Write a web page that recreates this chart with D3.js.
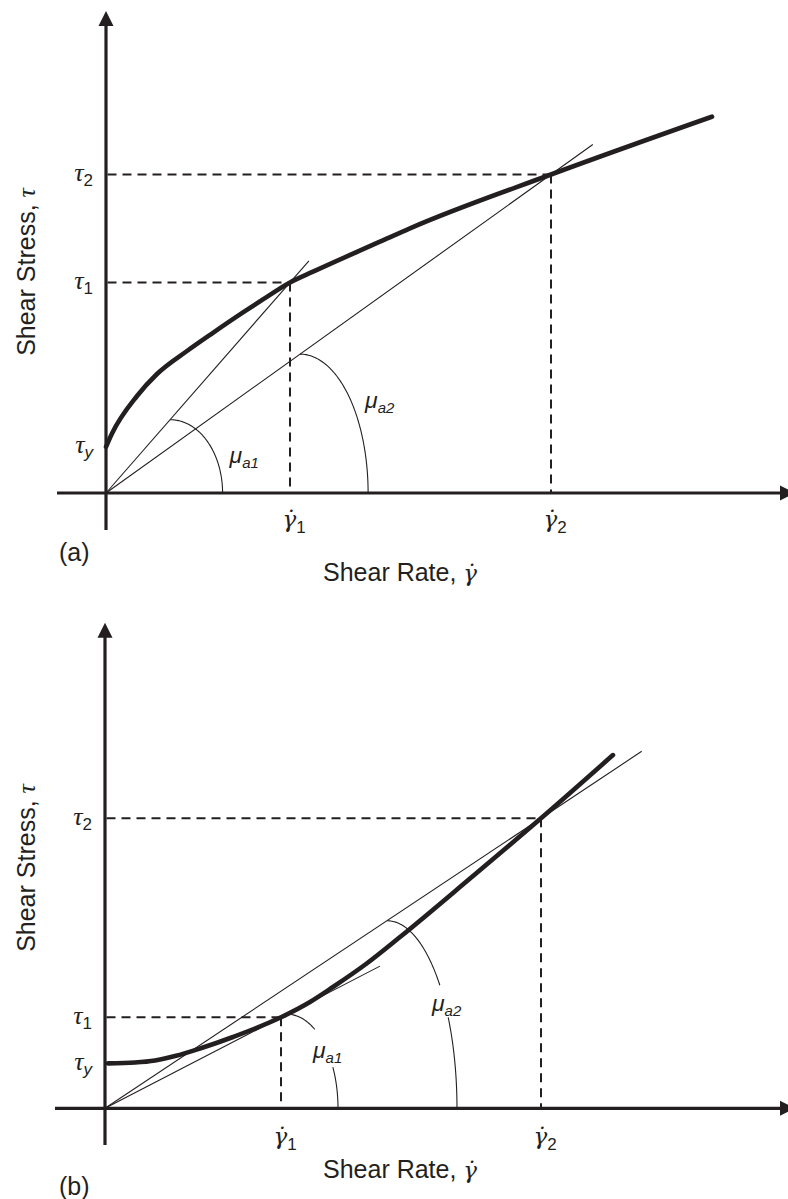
<!DOCTYPE html>
<html>
<head>
<meta charset="utf-8">
<script src="https://cdn.jsdelivr.net/npm/d3@7"></script>
<style>
  html, body { margin: 0; padding: 0; background: #fff; }
  svg { display: block; }
</style>
</head>
<body>
<svg id="chart" width="788" height="1199"></svg>
<script>
// ---------- (a) yield-stress, shear-thinning flow curve ----------
const rateA    = [0, 1.35, 6.97, 11.46, 18.20, 24.04, 30.79, 35.28, 41.35, 46.52, 61.57, 68.31, 100, 136.18];
const stressA  = [14.5, 18.68, 30.46, 37.36, 44.58, 50.30, 56.70, 60.78, 66.1, 69.48, 78.90, 83.11, 100, 118.15];
const yieldA   = 14.5;
const gammaA   = [41.35, 100];      // shear rates of the two read-off points
const tauA     = [66.1, 100];       // matching shear stresses
const rayEndA  = [45.6, 109.4];     // where each apparent-viscosity line stops
const arcFromA = [14.4, 43.6];      // angle-marker start (on the line)
const arcToA   = [26.2, 58.9];      // angle-marker end (on the rate axis)
const arcGapA  = [null, null];

// ---------- (b) yield-stress, shear-thickening flow curve ----------
const rateB    = [0.69, 6.88, 11.47, 16.06, 21.79, 29.36, 40.37, 47.02, 52.29, 59.86, 67.66, 83.72, 100, 116.5];
const stressB  = [15.5, 15.79, 16.48, 18.03, 20.62, 24.59, 31.38, 36.66, 41.83, 49.76, 59.07, 79.24, 100, 121.8];
const yieldB   = 15.5;
const gammaB   = [40.37, 100];
const tauB     = [31.38, 100];
const rayEndB  = [63.07, 123.1];
const arcFromB = [41.74, 64.68];
const arcToB   = [53.44, 80.73];
const arcGapB  = [[33, 64], [49, 61]];   // degrees left open for the labels

// ---------- labels ----------
const pointSubs = ["1", "2"];
const tauSubs   = ["y", "1", "2"];
const muSubs    = ["a1", "a2"];
const xTitle    = "Shear Rate, ";
const yTitle    = "Shear Stress, ";

const INK = "#231f20";
const SANS = "'Liberation Sans', Arial, Helvetica, sans-serif";
const SERIF = "'Liberation Serif', 'Times New Roman', serif";
const DOTSERIF = "'DejaVu Serif', serif";   // handles the combining dot over gamma
const GAMMA_DOT = "\u03B3\u0307";

const svg = d3.select("#chart");

function drawPanel(p) {
  const { x, y, rate, stress, yieldStress, gamma, tau, rayEnd, arcFrom, arcTo, arcGap,
          frame, tag, muPos } = p;
  const g = svg.append("g");
  const x0 = x(0), y0 = y(0);

  // dashed read-off guides
  gamma.forEach((gm, i) => {
    g.append("line")
      .attr("x1", x0 + 1.5).attr("y1", y(tau[i]))
      .attr("x2", x(gm)).attr("y2", y(tau[i]))
      .attr("stroke", INK).attr("stroke-width", 2).attr("stroke-dasharray", "9,6");
    g.append("line")
      .attr("x1", x(gm)).attr("y1", y(tau[i]))
      .attr("x2", x(gm)).attr("y2", y0)
      .attr("stroke", INK).attr("stroke-width", 2).attr("stroke-dasharray", "9,6");
  });

  // apparent-viscosity lines from the origin
  gamma.forEach((gm, i) => {
    const k = tau[i] / gm;
    g.append("line")
      .attr("x1", x(0)).attr("y1", y(0))
      .attr("x2", x(rayEnd[i])).attr("y2", y(rayEnd[i] * k))
      .attr("stroke", INK).attr("stroke-width", 1.1);
  });

  // angle markers (quarter ellipses from the line down to the rate axis)
  gamma.forEach((gm, i) => {
    const k = tau[i] / gm;
    const xs = arcFrom[i], xe = arcTo[i], ys = xs * k;
    const pts = d3.range(0, 90.5, 1).map(a => {
      const t = a * Math.PI / 180;
      return { a, px: x(xs + (xe - xs) * Math.sin(t)), py: y(ys * Math.cos(t)) };
    });
    const gap = arcGap[i];
    const pieces = gap
      ? [pts.filter(d => d.a <= gap[0]), pts.filter(d => d.a >= gap[1])]
      : [pts];
    pieces.forEach(piece => {
      g.append("path")
        .attr("d", d3.line().x(d => d.px).y(d => d.py)(piece))
        .attr("fill", "none").attr("stroke", INK).attr("stroke-width", 1.1);
    });
  });

  // axes with arrow heads
  g.append("line")
    .attr("x1", x0).attr("y1", frame.yBottom)
    .attr("x2", x0).attr("y2", frame.yTip + 12)
    .attr("stroke", INK).attr("stroke-width", 3.2);
  g.append("path")
    .attr("d", `M${x0},${frame.yTip} L${x0 - 7.5},${frame.yTip + 15} L${x0 + 7.5},${frame.yTip + 15} Z`)
    .attr("fill", INK);
  g.append("line")
    .attr("x1", frame.xLeft).attr("y1", y0)
    .attr("x2", frame.xTip - 12).attr("y2", y0)
    .attr("stroke", INK).attr("stroke-width", 3.2);
  g.append("path")
    .attr("d", `M${frame.xTip},${y0} L${frame.xTip - 15},${y0 - 7.5} L${frame.xTip - 15},${y0 + 7.5} Z`)
    .attr("fill", INK);

  // flow curve
  const curve = d3.line()
    .x(d => x(d[0])).y(d => y(d[1]))
    .curve(d3.curveMonotoneX);
  g.append("path")
    .attr("d", curve(d3.zip(rate, stress)))
    .attr("fill", "none").attr("stroke", INK)
    .attr("stroke-width", 4.6).attr("stroke-linecap", "round").attr("stroke-linejoin", "round");

  // stress tick labels
  const ya = g.append("g")
    .attr("transform", `translate(${x0},0)`)
    .call(d3.axisLeft(y).tickValues([yieldStress, ...tau]).tickSize(0).tickPadding(13).tickFormat(() => ""))
    .attr("font-family", null).attr("font-size", null);
  ya.select(".domain").remove();
  ya.selectAll(".tick text").each(function (d, i) {
    const t = d3.select(this).attr("dy", null).attr("y", 6).attr("fill", INK);
    t.append("tspan").attr("font-family", SERIF).attr("font-style", "italic")
      .attr("font-size", 26).text("τ");
    t.append("tspan").attr("font-family", SANS).attr("font-size", 17)
      .attr("font-style", tauSubs[i] === "y" ? "italic" : "normal")
      .attr("dy", 5).text(tauSubs[i]);
  });

  // shear-rate tick labels
  const xa = g.append("g")
    .attr("transform", `translate(0,${y0})`)
    .call(d3.axisBottom(x).tickValues(gamma).tickSize(0).tickFormat(() => ""))
    .attr("font-family", null).attr("font-size", null);
  xa.select(".domain").remove();
  xa.selectAll(".tick text").each(function (d, i) {
    const t = d3.select(this).attr("dy", null).attr("y", frame.gammaDy).attr("x", -8)
      .attr("text-anchor", "start").attr("fill", INK);
    t.append("tspan").attr("font-family", DOTSERIF).attr("font-style", "italic")
      .attr("font-size", 23).text(GAMMA_DOT);
    t.append("tspan").attr("font-family", SANS).attr("font-size", 17)
      .attr("dy", 6).text(pointSubs[i]);
  });

  // viscosity labels
  arcTo.forEach((xe, i) => {
    const t = g.append("text")
      .attr("x", x(xe) + muPos[i][0]).attr("y", y0 + muPos[i][1])
      .attr("fill", INK).attr("font-family", SANS).attr("font-style", "italic");
    t.append("tspan").attr("font-size", 23).text("μ");
    t.append("tspan").attr("font-size", 15).attr("dy", 5).text(muSubs[i]);
  });

  // axis titles
  const xt = g.append("text")
    .attr("x", frame.xTitleX).attr("y", frame.xTitleY)
    .attr("fill", INK).attr("font-family", SANS).attr("font-size", 25);
  xt.append("tspan").text(xTitle);
  xt.append("tspan").attr("font-family", DOTSERIF).attr("font-style", "italic").attr("font-size", 23).text(GAMMA_DOT);

  const yt = g.append("text")
    .attr("transform", `translate(${frame.yTitleX},${frame.yTitleY}) rotate(-90)`)
    .attr("text-anchor", "middle")
    .attr("fill", INK).attr("font-family", SANS).attr("font-size", 25);
  yt.append("tspan").text(yTitle);
  yt.append("tspan").attr("font-family", SERIF).attr("font-style", "italic").attr("font-size", 26).text("τ");

  // panel tag
  g.append("text")
    .attr("x", frame.tagX).attr("y", frame.tagY)
    .attr("fill", INK).attr("font-family", SANS).attr("font-size", 25)
    .text(tag);
}

drawPanel({
  x: d3.scaleLinear().domain([0, 100]).range([106, 551]),
  y: d3.scaleLinear().domain([0, 100]).range([493, 174.5]),
  rate: rateA, stress: stressA, yieldStress: yieldA,
  gamma: gammaA, tau: tauA, rayEnd: rayEndA,
  arcFrom: arcFromA, arcTo: arcToA, arcGap: arcGapA,
  tag: "(a)",
  muPos: [[7, -30], [-3, -85]],
  frame: { yBottom: 530, yTip: 11, xLeft: 57, xTip: 795, gammaDy: 34,
           xTitleX: 323, xTitleY: 581, yTitleX: 35, yTitleY: 272, tagX: 59, tagY: 561 }
});

drawPanel({
  x: d3.scaleLinear().domain([0, 100]).range([105, 541]),
  y: d3.scaleLinear().domain([0, 100]).range([1108.3, 818.3]),
  rate: rateB, stress: stressB, yieldStress: yieldB,
  gamma: gammaB, tau: tauB, rayEnd: rayEndB,
  arcFrom: arcFromB, arcTo: arcToB, arcGap: arcGapB,
  tag: "(b)",
  muPos: [[-25, -50], [-25, -97]],
  frame: { yBottom: 1145, yTip: 622.7, xLeft: 55, xTip: 795, gammaDy: 36,
           xTitleX: 323, xTitleY: 1178, yTitleX: 35, yTitleY: 868, tagX: 59, tagY: 1195 }
});
</script>
</body>
</html>
